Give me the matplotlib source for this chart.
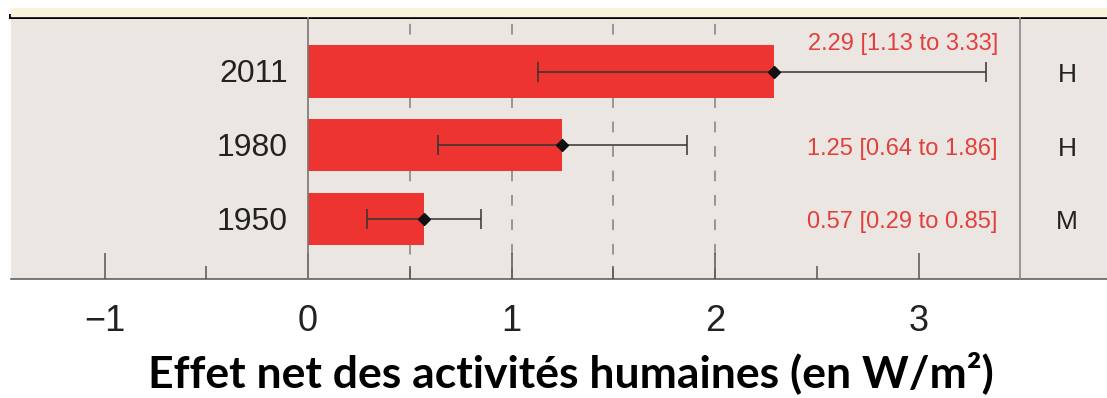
import matplotlib.pyplot as plt
from matplotlib.patches import Rectangle
import numpy as np

# donnees
annees = ['1950', '1980', '2011']
valeurs = [0.57, 1.25, 2.29]
bas = [0.29, 0.64, 1.13]
haut = [0.85, 1.86, 3.33]
confiance = ['M', 'H', 'H']
xticks = [-1, 0, 1, 2, 3]
xlabel = 'Effet net des activités humaines (en W/m²)'

# couleurs
gris_fond = '#ebe6e2'
rouge = '#ee3431'
rouge_txt = '#e3403c'
creme = '#f8f4dc'

W, H = 1107, 398
fig = plt.figure(figsize=(W / 100, H / 100), dpi=100)
fig.patch.set_facecolor('white')

# bandeau creme en haut (bout du panneau du dessus)
fig.patches.append(Rectangle((11 / W, 1 - 16 / H), 1, 8 / H,
                             transform=fig.transFigure, color=creme, zorder=0))

ax = fig.add_axes([11 / W, 1 - 279 / H, (W - 11) / W, (279 - 16) / H])
ax.set_facecolor(gris_fond)
ax.set_xlim((11 - 308) / 203.5, (W - 308) / 203.5)
ax.set_ylim(-0.82, 2.755)

pos = np.arange(len(annees))
v = np.array(valeurs)
err = [v - np.array(bas), np.array(haut) - v]

# lignes verticales
for xd in [0.5, 1, 1.5, 2]:
    ax.axvline(xd, color='#808080', lw=1.1, ls=(0, (7, 9)), zorder=1)
ax.axvline(0, color='#777777', lw=1.2, zorder=3)
ax.axvline(3.5, color='#888888', lw=1.2, zorder=3)

ax.barh(pos, valeurs, height=0.71, color=rouge, zorder=2)
ax.errorbar(valeurs, pos, xerr=err, fmt='D', color='#111111', ms=6,
            ecolor='#333333', elinewidth=1.1, capsize=7, capthick=1.1, zorder=4)

# textes
for i in range(len(annees)):
    ax.text(-0.1, pos[i] - 0.04, annees[i], ha='right', va='center',
            fontsize=23, family='Liberation Sans', color='#222222')
    ax.text(3.73, pos[i] - 0.05, confiance[i], ha='center', va='center',
            fontsize=19, family='Liberation Sans', color='#222222')
    txt = f'{valeurs[i]:.2f} [{bas[i]:.2f} to {haut[i]:.2f}]'
    ty = pos[i] - 0.05
    if annees[i] == '2011':
        ty = 2.37
    ax.text(3.39, ty, txt, ha='right', va='center', fontsize=17,
            family='Liberation Sans', color=rouge_txt)

# axes et graduations
for s in ['left', 'right']:
    ax.spines[s].set_visible(False)
ax.spines['top'].set_linewidth(3.6)
ax.spines['top'].set_color('black')
ax.spines['bottom'].set_color('#555555')
ax.spines['bottom'].set_linewidth(1.1)

ax.set_yticks([])
ax.set_xticks(xticks)
ax.set_xticklabels(['\u22121', '0', '1', '2', '3'], family='Liberation Sans',
                   fontsize=26, color='#222222')
ax.set_xticks([-0.5, 0.5, 1.5, 2.5], minor=True)
ax.tick_params(axis='x', which='major', direction='in', length=18.7, width=1.1,
               color='#555555', pad=18, top=False)
ax.tick_params(axis='x', which='minor', direction='in', length=9.4, width=1.1,
               color='#555555', top=False)

sec = ax.secondary_xaxis('top')
sec.set_xticks([-1, -0.5, 0, 0.5, 1, 1.5, 2, 2.5, 3, 3.5])
sec.tick_params(direction='out', length=5, width=0.8, color='#aaaaaa',
                labeltop=False)
sec.spines['top'].set_visible(False)

fig.text(571 / W, 1 - 387 / H, xlabel, ha='center', va='baseline',
         fontsize=32, fontweight='bold', family='Lato', color='black')

fig.savefig('out.png', dpi=100)
